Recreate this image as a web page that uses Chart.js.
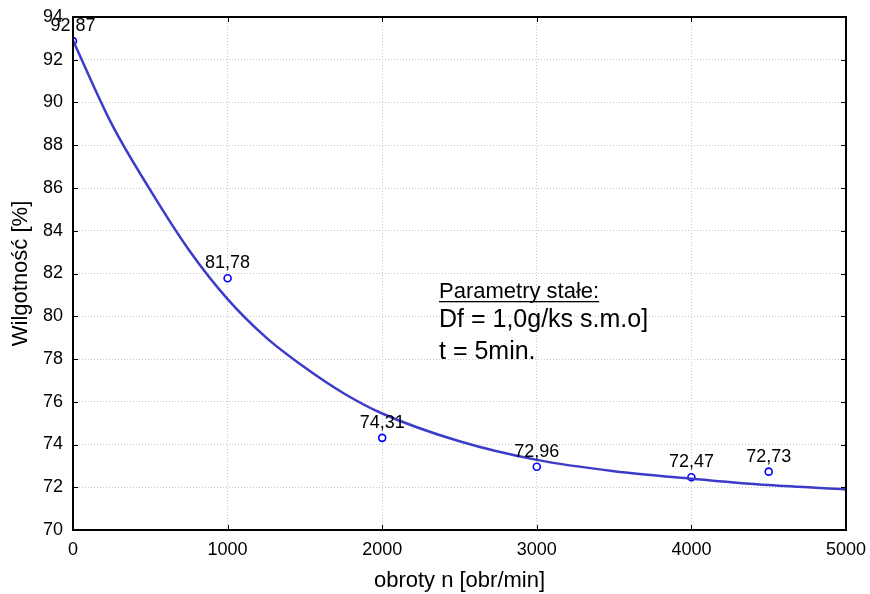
<!DOCTYPE html>
<html>
<head>
<meta charset="utf-8">
<script src="https://cdn.jsdelivr.net/npm/chart.js@4"></script>
<style>
  html, body { margin: 0; padding: 0; background: #fff; }
</style>
</head>
<body>
<canvas id="myChart" width="870" height="594"></canvas>
<script>
var obroty = [0, 1000, 2000, 3000, 4000, 4500];
var wilgotnosc = [92.87, 81.78, 74.31, 72.96, 72.47, 72.73];
var etykiety = ["92,87", "81,78", "74,31", "72,96", "72,47", "72,73"];

// fitted curve
var krzyweX = [0, 250, 500, 750, 1000, 1250, 1500, 1750, 2000, 2500, 3000, 3500, 4000, 4500, 5000];
var krzyweY = [92.9, 89.0, 85.9, 83.1, 80.8, 79.0, 77.6, 76.4, 75.45, 74.15, 73.28, 72.75, 72.4, 72.1, 71.9];

var xTicks = [0, 1000, 2000, 3000, 4000, 5000];
var yTicks = [70, 72, 74, 76, 78, 80, 82, 84, 86, 88, 90, 92, 94];

var FONT = "Arial, 'Liberation Sans', sans-serif";

var frame = {
  id: "frame",
  afterDraw: function (chart) {
    var c = chart.ctx, a = chart.chartArea;
    var xs = chart.scales.x, ys = chart.scales.y;
    c.save();
    c.strokeStyle = "#000";
    c.lineWidth = 2;
    c.strokeRect(a.left, a.top, a.right - a.left, a.bottom - a.top);
    c.lineWidth = 1;
    c.beginPath();
    xTicks.forEach(function (v) {
      var px = Math.round(xs.getPixelForValue(v)) + 0.5;
      c.moveTo(px, a.bottom); c.lineTo(px, a.bottom - 5);
      c.moveTo(px, a.top); c.lineTo(px, a.top + 5);
    });
    yTicks.forEach(function (v) {
      var py = Math.round(ys.getPixelForValue(v)) + 0.5;
      c.moveTo(a.left, py); c.lineTo(a.left + 5, py);
      c.moveTo(a.right, py); c.lineTo(a.right - 5, py);
    });
    c.stroke();

    // point labels
    c.fillStyle = "#000";
    c.font = "18px " + FONT;
    c.textAlign = "center";
    c.textBaseline = "middle";
    for (var i = 0; i < obroty.length; i++) {
      var px2 = xs.getPixelForValue(obroty[i]);
      var py2 = ys.getPixelForValue(wilgotnosc[i]);
      c.fillText(etykiety[i], px2, py2 - 15);
    }

    // annotation
    c.textAlign = "left";
    c.textBaseline = "alphabetic";
    c.font = "22px " + FONT;
    c.fillText("Parametry stałe:", 439, 298);
    var w = c.measureText("Parametry stałe:").width;
    c.fillRect(439, 301, w, 1.3);
    c.font = "25px " + FONT;
    c.fillText("Df = 1,0g/ks s.m.o]", 439, 327);
    c.fillText("t = 5min.", 439, 359);
    c.restore();
  }
};

var ctx = document.getElementById("myChart").getContext("2d");
var myChart = new Chart(ctx, {
  type: "scatter",
  data: {
    datasets: [
      {
        label: "krzywa",
        data: krzyweX.map(function (x, i) { return { x: x, y: krzyweY[i] }; }),
        showLine: true,
        borderColor: "rgb(60, 60, 200)",
        borderWidth: 2.5,
        pointRadius: 0,
        cubicInterpolationMode: "monotone",
        fill: false
      },
      {
        label: "pomiary",
        data: obroty.map(function (x, i) { return { x: x, y: wilgotnosc[i] }; }),
        showLine: false,
        pointRadius: 3.5,
        pointBorderWidth: 1.6,
        pointBorderColor: "rgb(0, 0, 255)",
        pointBackgroundColor: "#fff"
      }
    ]
  },
  options: {
    responsive: false,
    animation: false,
    layout: { padding: { top: 17, right: 24, left: 0, bottom: 0 } },
    plugins: { legend: { display: false }, tooltip: { enabled: false } },
    scales: {
      x: {
        type: "linear",
        min: 0,
        max: 5000,
        afterFit: function (s) { s.height = 64; s.paddingLeft = 0; s.paddingRight = 0; },
        afterBuildTicks: function (s) { s.ticks = xTicks.map(function (v) { return { value: v }; }); },
        ticks: {
          color: "#000", font: { size: 18, family: FONT }, padding: 9, maxRotation: 0,
          callback: function (v) { return String(v); }
        },
        grid: { color: "#c8c8c8", lineWidth: 1, tickLength: 0, drawTicks: false },
        border: { display: false, dash: [1, 2] },
        title: { display: true, text: "obroty n [obr/min]", color: "#000", font: { size: 22, family: FONT }, padding: { top: 0, bottom: 0 } }
      },
      y: {
        type: "linear",
        min: 70,
        max: 94,
        afterFit: function (s) { s.width = 73; s.paddingTop = 0; s.paddingBottom = 0; },
        afterBuildTicks: function (s) { s.ticks = yTicks.map(function (v) { return { value: v }; }); },
        ticks: { color: "#000", font: { size: 18, family: FONT }, padding: 10 },
        grid: { color: "#c8c8c8", lineWidth: 1, tickLength: 0, drawTicks: false },
        border: { display: false, dash: [1, 2] },
        title: { display: true, text: "Wilgotność [%]", color: "#000", font: { size: 22, family: FONT }, padding: { top: 8, bottom: 0 } }
      }
    }
  },
  plugins: [frame]
});
</script>
</body>
</html>
